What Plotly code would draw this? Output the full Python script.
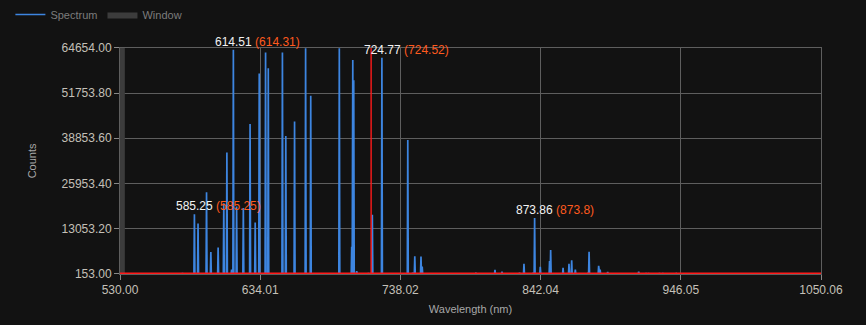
import plotly.graph_objects as go

# ---------------- data ----------------
peak_wavelengths = [576.4, 585.2, 587.9, 594.2, 597.4, 602.8, 607.0, 609.3, 612.8, 614.1,
                    616.5, 621.5, 626.5, 630.3, 633.3, 638.0, 640.0, 650.5, 653.0, 659.5,
                    667.7, 671.5, 692.7, 701.9, 702.7, 703.4, 705.6, 714.3, 717.2, 724.3,
                    743.5, 747.1, 748.7, 753.3, 754.2, 794.0, 808.2, 813.4, 826.4, 829.7,
                    836.5, 837.6, 841.8, 848.7, 849.5, 858.7, 863.1, 865.1, 867.8, 877.3,
                    878.0, 885.1, 886.2, 891.8, 914.8, 920.3, 922.1, 930.2, 932.7, 942.6]
peak_counts = [430, 17200, 14540, 23430, 6400, 7720, 20300, 34810, 1440, 64090,
               19400, 19000, 42940, 14800, 57300, 63330, 58800, 63330, 39500, 43650,
               64540, 50990, 64540, 7900, 61170, 55390, 990, 430, 17060, 61800,
               38370, 520, 5200, 5150, 2280, 520, 1360, 800, 520, 3040,
               520, 16140, 2200, 3880, 6970, 1920, 3040, 4080, 1440, 520,
               6490, 2480, 1440, 710, 800, 430, 430, 430, 430, 300]
baseline_counts = 160

label_wavelengths = [585.2, 614.1, 724.3, 837.6]
label_counts = [17200, 64090, 61800, 16140]
label_measured = ["585.25", "614.51", "724.77", "873.86"]
label_reference = ["585.25", "614.31", "724.52", "873.8"]

window_start = 530.0
window_end = 533.6
marker_wavelength = 716.3
threshold_counts = 280

x_min, x_max = 530.0, 1050.06
y_min, y_max = 153.0, 64654.0
x_tick_labels = ["530.00", "634.01", "738.02", "842.04", "946.05", "1050.06"]
y_tick_labels = ["153.00", "13053.20", "25953.40", "38853.60", "51753.80", "64654.00"]

# ---------------- build spike trace ----------------
half = 0.35
xs, ys = [x_min], [baseline_counts]
for w, c in zip(peak_wavelengths, peak_counts):
    xs += [w - half, w, w + half]
    ys += [baseline_counts, c, baseline_counts]
xs.append(x_max)
ys.append(baseline_counts)

BG = "#121212"
GRID = "#5e5e5e"
TICKC = "#c4c0b8"
RED = "#ff1a1a"
FONT = "Liberation Sans, Arial, sans-serif"

fig = go.Figure()
fig.add_trace(go.Scatter(
    x=xs, y=ys, mode="lines", name="Spectrum",
    line=dict(color="#3d85e0", width=1.7),
))
fig.add_trace(go.Scatter(
    x=[window_start, window_end, window_end, window_start, window_start],
    y=[y_min, y_min, y_max, y_max, y_min],
    mode="lines", fill="toself", name="Window",
    fillcolor="#3c3c3c", line=dict(width=0, color="#3c3c3c"),
))

# red threshold & marker lines
fig.add_shape(type="line", xref="x", yref="y", x0=x_min, x1=x_max,
              y0=threshold_counts, y1=threshold_counts,
              line=dict(color=RED, width=2), layer="above")
fig.add_shape(type="line", xref="x", yref="y", x0=marker_wavelength, x1=marker_wavelength,
              y0=y_min, y1=y_max, line=dict(color=RED, width=1.4), layer="above")


def text_width(s, size=12):
    w = 0
    for ch in s:
        w += 3.34 if ch in ".()" else 6.67
    return w * size / 12


for w, c, m, r in zip(label_wavelengths, label_counts, label_measured, label_reference):
    fig.add_annotation(
        x=w, y=c, xref="x", yref="y",
        text=f"{m} <span style='color:#ff5a1e'>({r})</span>",
        showarrow=False, xanchor="left", yanchor="bottom",
        xshift=-text_width(m) / 2 - 2, yshift=-1,
        font=dict(color="#f2f2f2", size=12, family=FONT),
    )

fig.update_layout(
    width=866, height=325,
    margin=dict(l=120, r=45, t=45, b=50),
    paper_bgcolor=BG, plot_bgcolor=BG,
    font=dict(family=FONT, color=TICKC, size=12),
    showlegend=True,
    legend=dict(orientation="h", xref="container", yref="container",
                x=0.012, y=1.0, xanchor="left", yanchor="top",
                font=dict(size=11, color="#7c7c7c", family=FONT),
                bgcolor="rgba(0,0,0,0)", itemwidth=30, tracegroupgap=0),
    xaxis=dict(
        range=[x_min, x_max], tickmode="array",
        tickvals=[float(t) for t in x_tick_labels], ticktext=x_tick_labels,
        showgrid=True, gridcolor=GRID, gridwidth=1,
        showline=True, linecolor=GRID, mirror=True, zeroline=False,
        ticks="outside", ticklen=5, tickcolor="#888888",
        tickfont=dict(size=12, color=TICKC),
        title=dict(text="Wavelength (nm)", font=dict(size=11, color="#a8a8a8"), standoff=8),
    ),
    yaxis=dict(
        range=[y_min, y_max], tickmode="array",
        tickvals=[float(t) for t in y_tick_labels], ticktext=y_tick_labels,
        showgrid=True, gridcolor=GRID, gridwidth=1,
        showline=True, linecolor=GRID, mirror=True, zeroline=False,
        ticks="outside", ticklen=5, tickcolor="#888888",
        tickfont=dict(size=12, color=TICKC),
        title=dict(text="Counts", font=dict(size=11, color="#a8a8a8"), standoff=22),
    ),
)

fig.write_html("out.html")
